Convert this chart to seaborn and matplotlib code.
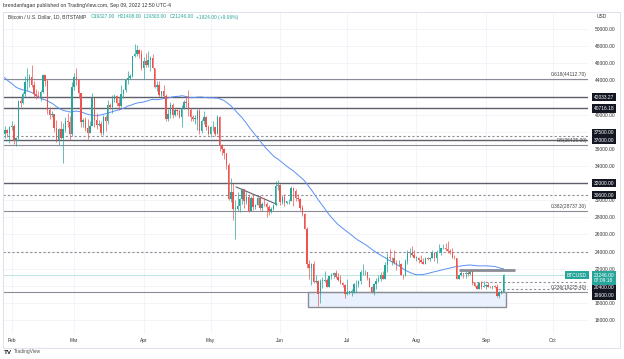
import matplotlib
matplotlib.use("Agg")
import matplotlib.pyplot as plt
import matplotlib.dates as mdates
import matplotlib.transforms as mtransforms
from matplotlib.patches import Rectangle
import numpy as np
import pandas as pd
import seaborn as sns

# BTCUSD daily (Bitstamp)
# closes Dec 10 2021 - Jan 27 2022, only needed for the 50 day average
warmup_close = [47100, 49300, 50100, 46700, 48400, 48900, 47600, 46200, 46900, 46700, 46900,
                49000, 48600, 50800, 50400, 50800, 50600, 50600, 47600, 46400, 47100, 46300,
                47700, 47300, 46400, 45900, 43500, 43100, 41500, 41700, 41900, 41800, 42700,
                43900, 42600, 43100, 43200, 43100, 42200, 42400, 41700, 40700, 36500, 35100,
                36300, 36700, 36900, 36800, 37200]

first_day = '2022-01-28'
close = [37700, 38200, 37900, 38500,
         # feb
         38700, 36900, 37300, 41600, 41400, 42400, 43800, 44100, 44400, 43500, 42400, 42200, 42100, 42600,
         44600, 43900, 40500, 40000, 40100, 38400, 37000, 38300, 37300, 38300, 39200, 39100, 37700, 43200,
         # mar
         44400, 44000, 42500, 39100, 39400, 38400, 37900, 38700, 41900, 39400, 38800, 38900, 37800, 39700,
         39300, 41100, 40900, 41800, 42200, 41300, 41000, 42400, 42900, 44000, 44300, 44500, 46800, 47100,
         47500, 47100, 45500,
         # apr
         46300, 45800, 46400, 46600, 45500, 43200, 43400, 42300, 42700, 42200, 39500, 40100, 41100, 39900,
         40500, 40400, 39700, 40800, 41500, 41400, 40500, 39700, 39500, 39500, 40400, 38100, 39200, 39700,
         38600, 37700,
         # may
         38500, 38500, 37700, 39700, 36500, 36000, 35500, 34100, 30100, 31000, 29000, 29000, 29300, 30100,
         31300, 29900, 30400, 28700, 30300, 29200, 29400, 30300, 29100, 29600, 29500, 29200, 28600, 29000,
         29400, 31700, 31800,
         # jun
         29800, 30400, 29700, 29900, 29900, 31400, 31100, 30200, 30100, 29100, 28400, 26600, 22500, 22100,
         22600, 20400, 20500, 19000, 20600, 20600, 20700, 19900, 21100, 21200, 21500, 21000, 20700, 20300,
         20100, 19000,
         # jul
         19300, 19300, 19300, 20200, 20200, 20600, 21600, 21600, 21600, 20900, 19900, 19300, 20200, 20600,
         20800, 21200, 20800, 22400, 23400, 23200, 23200, 22700, 22500, 22600, 21300, 21200, 22900, 23800,
         23800, 23600, 23300,
         # aug
         23300, 23000, 22800, 22600, 23300, 23100, 23200, 23800, 23200, 23900, 23900, 24400, 24400, 24300,
         24100, 23900, 23300, 23200, 20800, 21200, 21500, 21400, 21500, 21400, 21600, 20300, 20000, 19600,
         20300, 19800, 20000,
         # sep
         20100, 19900, 19800, 20000, 19800, 18800, 19300, 19327, 21246]

high = [38000, 38700, 38300, 38700,
        39300, 38900, 37400, 41700, 41900, 42600, 44500, 45400, 44800, 45800, 43900, 43000, 42700, 42900,
        44700, 44600, 44200, 40900, 40400, 40100, 39400, 38400, 39200, 39000, 39700, 40200, 39800, 43800,
        44900, 45400, 44100, 42500, 39600, 39700, 39500, 39300, 42500, 41900, 40200, 39400, 39300, 39900,
        39900, 41700, 41400, 42300, 42400, 42300, 42000, 43400, 43000, 44200, 45100, 44800, 46900, 48200,
        48100, 47700, 47600,
        46700, 47200, 47400, 46900, 47100, 45500, 43900, 43900, 42800, 43400, 42400, 40700, 41500, 41400,
        40800, 40700, 40600, 41100, 41700, 42200, 42900, 40800, 39900, 39900, 40600, 40800, 39500, 40400,
        39800, 38800,
        38700, 39200, 38600, 40000, 39800, 36600, 36100, 35500, 34300, 32600, 32000, 30000, 30900, 30300,
        31400, 31300, 31000, 30700, 30500, 30700, 29600, 30400, 30600, 29800, 30200, 29800, 29400, 29200,
        29500, 32200, 32300,
        31900, 30600, 30700, 29900, 30100, 31700, 31500, 31300, 30700, 30300, 29400, 28500, 26900, 23000,
        22700, 22900, 21300, 20700, 20800, 21000, 21700, 20900, 21200, 21500, 21600, 21800, 21500, 21200,
        20400, 20200,
        20800, 19400, 19600, 20300, 20700, 20700, 21800, 22500, 21900, 21600, 20900, 20000, 20300, 20900,
        21200, 21600, 21700, 22800, 23800, 24300, 23400, 24200, 23000, 23000, 22700, 21400, 23100, 24200,
        24400, 24600, 24200,
        23500, 23400, 23600, 23200, 23400, 23400, 23400, 24200, 23900, 24200, 24900, 24400, 24900, 25000,
        25200, 24300, 24400, 23600, 23200, 21400, 21700, 21500, 21700, 21800, 21800, 21900, 20400, 20200,
        20400, 20600, 20500,
        20200, 20400, 20000, 20000, 20100, 20200, 19400, 19500, 21408]

low = [36200, 37300, 37400, 36700,
       38200, 36600, 36300, 37000, 40900, 41200, 42100, 42800, 43200, 43200, 42000, 41800, 41900, 41600,
       42500, 43300, 40100, 39500, 39700, 38000, 36800, 36400, 37100, 34300, 38000, 38600, 37000, 37500,
       42900, 43400, 41900, 38600, 38600, 38100, 37200, 37900, 38700, 38600, 38300, 38700, 37600, 37600,
       38100, 38900, 40600, 40200, 41500, 41000, 40500, 40900, 41900, 42600, 43600, 44100, 44400, 46700,
       46900, 46600, 45200,
       44200, 45600, 45600, 45100, 45400, 43100, 42700, 42100, 42100, 42000, 39200, 39300, 39600, 39600,
       39800, 40000, 39600, 38600, 40600, 40900, 39800, 39200, 39300, 38900, 38200, 37700, 37900, 38900,
       38200, 37600,
       37400, 38100, 37500, 37700, 35800, 35300, 34800, 33700, 30000, 29800, 27700, 25500, 28700, 28600,
       29500, 29100, 29500, 28600, 28700, 28800, 29000, 29400, 28900, 28700, 29300, 28000, 28300, 28500,
       28800, 29300, 31200,
       29400, 29600, 29300, 29500, 29500, 29900, 29300, 29900, 29900, 28900, 28100, 26600, 22100, 20800,
       20100, 20300, 20300, 17600, 18000, 19700, 20400, 19800, 19900, 20800, 20900, 20900, 20500, 20200,
       19900, 18600,
       18900, 19000, 18800, 19100, 19300, 19800, 20200, 21200, 21300, 20700, 19800, 19200, 18900, 19600,
       20400, 20500, 20800, 20800, 21600, 23000, 22400, 22500, 21900, 22300, 21300, 20800, 21100, 22600,
       23400, 23500, 23200,
       22900, 22700, 22700, 22500, 22600, 23000, 22900, 23200, 22900, 22700, 23900, 23600, 24300, 24100,
       23800, 23700, 23200, 23100, 20800, 20800, 21100, 20900, 20900, 21100, 21300, 20100, 19900, 19600,
       19600, 19600, 19800,
       19600, 19800, 19700, 19600, 19700, 18700, 18600, 19000, 19303]

# drawn levels
fib_levels = [44112.70, 36425.00, 28737.30, 19225.40]
fib_names = ['0.618', '0.5', '0.382', '0.236']
solid_levels = [42033.27, 40716.18, 37000.00, 32000.00]
dashed_levels = [37500.00, 30600.00, 24000.00]
boxed_levels = [42033.27, 40716.18, 37500.00, 37000.00, 32000.00, 30600.00, 20400.00, 19600.00]
last_price = 21246.00
range_box = (17550, 19225.40)
# tick labels that sit fully under a price box in the reference
hidden_ticks = [42000, 38000, 20000]

UP, DOWN = '#26a69a', '#ef5350'
W, H = 624, 359
FS = 3.5


def fx(p):
    return p / W


def fy(p):
    return 1 - p / H


# prepare data
all_close = pd.Series(warmup_close + close, dtype=float)
n0 = len(warmup_close)
opens = all_close.shift(1).iloc[n0:].to_numpy()
ma50 = all_close.rolling(50).mean().iloc[n0:].to_numpy()
dates = pd.date_range(first_day, periods=len(close), freq='D')
x = mdates.date2num(dates)
c = np.array(close, dtype=float)


def day(s):
    return mdates.date2num(pd.Timestamp(s))


sns.set_style('white')
plt.rcParams['font.family'] = ['Liberation Sans', 'DejaVu Sans']

fig = plt.figure(figsize=(W / 100, H / 100), dpi=100)
ax = fig.add_axes([fx(3), fy(334), fx(585), (334 - 11.5) / H])

feb1 = day('2022-02-01')
ax.set_xlim(feb1 - 3.84, feb1 + 257.7)
ax.set_ylim(14364, 52044)

# candles
col = np.where(c >= opens, UP, DOWN)
ax.vlines(x, low, high, colors=col, lw=0.5, zorder=3)
body_lo = np.minimum(opens, c)
body_h = np.maximum(np.abs(c - opens), 60)
ax.bar(x, body_h, bottom=body_lo, width=0.65, color=col, lw=0, zorder=3)

# 50 day average
sns.lineplot(x=x, y=ma50, ax=ax, color='#5b8ff9', lw=0.7, zorder=2.5)

# horizontal levels
for v in solid_levels:
    ax.axhline(v, color='#5d606b', lw=1.0, zorder=2)
for v in dashed_levels:
    ax.axhline(v, color='#8a8d96', lw=0.8, ls=(0, (2, 2)), zorder=2)
lab_t = mtransforms.blended_transform_factory(ax.transAxes, ax.transData)
for v, name in zip(fib_levels, fib_names):
    ax.axhline(v, color='#8a8d96', lw=0.8, zorder=2)
    ax.text(fx(584) / fx(585), v + 250, f'{name}({v:.2f})', transform=lab_t, ha='right',
            va='bottom', fontsize=FS, color='#444')
ax.axhline(last_price, color=UP, lw=0.6, alpha=0.35, zorder=2)

x_end = ax.get_xlim()[1]
ax.hlines(21800, day('2022-08-20'), day('2022-09-14'), color='#8a8d96', lw=2.0, zorder=2)
ax.hlines(20400, day('2022-08-26'), x_end, color='#8a8d96', lw=0.8, ls=(0, (2, 2)), zorder=2)
ax.hlines(19600, day('2022-09-06 10:00'), x_end, color='#8a8d96', lw=0.8, ls=(0, (2, 2)), zorder=2)

# consolidation box and wedge line
x_box0 = day('2022-06-13 12:00')
x_box1 = day('2022-09-09 20:00')
ax.add_patch(Rectangle((x_box0, range_box[0]), x_box1 - x_box0, range_box[1] - range_box[0],
                       fc='#e8f1fd', ec='#8a8d96', lw=1.0, zorder=1.5))
ax.plot([day('2022-05-12 08:00'), day('2022-05-30 14:00')], [31550, 29520],
        color='#5d606b', lw=0.8, zorder=2)

# axes, ticks, grid
for s in ax.spines.values():
    s.set_visible(False)
yt = np.arange(16000, 50001, 2000)
ax.set_yticks(yt)
ax.set_yticklabels(['' if v in hidden_ticks else f'{v:.2f}' for v in yt])
ax.yaxis.tick_right()
months = pd.date_range('2022-02-01', '2022-10-01', freq='MS')
ax.set_xticks(mdates.date2num(months))
ax.set_xticklabels([m.strftime('%b') for m in months])
ax.tick_params(axis='y', length=0, labelsize=FS, labelcolor='#333', pad=5)
ax.tick_params(axis='x', length=0, labelsize=FS, labelcolor='#333', pad=2.6)
ax.grid(True, color='#f0f3fa', lw=0.6, zorder=0)
ax.set_axisbelow(True)

# price axis boxes
nudge = {37500.00: 3, 20400.00: -5.5, 19600.00: -6.6}
for v in boxed_levels:
    t = mtransforms.offset_copy(lab_t, fig=fig, x=0, y=nudge.get(v, 0), units='dots')
    ax.text(fx(593.5 - 3) / fx(585), v, f'{v:.2f}', transform=t, ha='left', va='center',
            fontsize=FS, color='white', zorder=6, clip_on=False,
            bbox=dict(boxstyle='square,pad=0.35', fc='#131722', ec='none'))
ax.text(fx(587 - 3) / fx(585), last_price, 'BTCUSD', transform=lab_t, ha='right', va='center',
        fontsize=FS, color='white', zorder=6, clip_on=False,
        bbox=dict(boxstyle='square,pad=0.35', fc=UP, ec='none'))
t = mtransforms.offset_copy(lab_t, fig=fig, x=0, y=-3, units='dots')
ax.text(fx(593.5 - 3) / fx(585), last_price, f'{last_price:.2f}\n07:09:18', transform=t,
        ha='left', va='center', fontsize=FS, color='white', zorder=6, clip_on=False,
        linespacing=1.1, bbox=dict(boxstyle='square,pad=0.35', fc=UP, ec='none'))

# header, footer, frame
fig.text(fx(597), fy(17), 'USD', fontsize=FS, color='#333', va='center')
fig.text(fx(3), fy(5), 'brendanfagan published on TradingView.com, Sep 09, 2022 12:50 UTC-4',
         fontsize=3.7, color='#333', va='center')
fig.text(fx(8), fy(17), 'Bitcoin / U.S. Dollar, 1D, BITSTAMP', fontsize=FS, color='#333', va='center')
for px, s in [(91, 'O19327.00'), (118, 'H21408.00'), (144, 'L19303.00'), (170, 'C21246.00'),
              (196, '+1924.00 (+9.96%)')]:
    fig.text(fx(px), fy(17), s, fontsize=FS, color=UP, va='center')
fig.text(fx(4), fy(352), 'TV', fontsize=4.5, fontweight='bold', color='#131722', va='center')
fig.text(fx(14), fy(352), 'TradingView', fontsize=FS, color='#555', va='center')
fig.add_artist(Rectangle((fx(3), fy(348)), fx(617), (348 - 11.5) / H, transform=fig.transFigure,
                         fill=False, ec='#e0e3eb', lw=0.8))

fig.savefig('out.png', dpi=100)
